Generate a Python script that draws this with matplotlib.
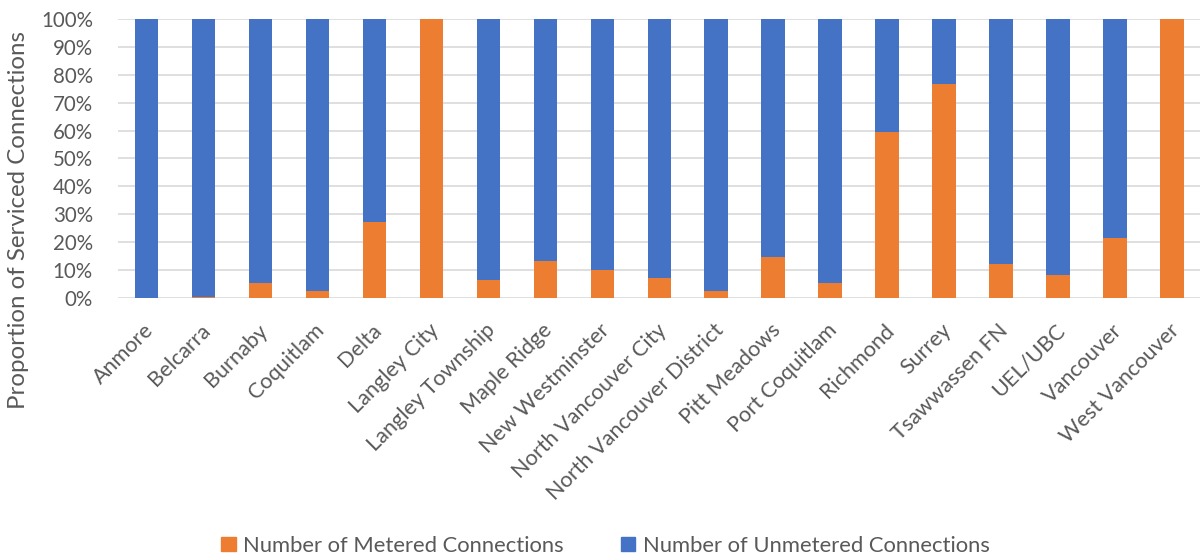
import matplotlib
matplotlib.use("Agg")
import matplotlib.pyplot as plt
from matplotlib.ticker import PercentFormatter
from matplotlib.patches import Patch
from matplotlib.transforms import ScaledTranslation
import numpy as np

# Share of serviced connections that are metered, by municipality (%)
municipalities = [
    "Anmore", "Belcarra", "Burnaby", "Coquitlam", "Delta", "Langley City",
    "Langley Township", "Maple Ridge", "New Westminster", "North Vancouver City",
    "North Vancouver District", "Pitt Meadows", "Port Coquitlam", "Richmond",
    "Surrey", "Tsawwassen FN", "UEL/UBC", "Vancouver", "West Vancouver",
]
metered_pct = [0.1, 0.5, 5.2, 2.6, 27.3, 100.0, 6.5, 13.4, 10.1, 7.3,
               2.6, 14.7, 5.2, 59.6, 76.8, 12.0, 8.4, 21.6, 100.0]
unmetered_pct = [100.0 - m for m in metered_pct]

series_labels = ["Number of Metered Connections", "Number of Unmetered Connections"]
ORANGE = "#ED7D31"
BLUE = "#4472C4"
TEXT = "#595959"
GRID = "#D9D9D9"

plt.rcParams["font.family"] = ["Lato", "DejaVu Sans"]

fig = plt.figure(figsize=(12.04, 5.59), dpi=100)
ax = fig.add_axes([0.098, 0.467, 0.899, 0.499])

x = np.arange(len(municipalities))
w = 0.41
ax.bar(x, metered_pct, width=w, color=ORANGE, zorder=3)
ax.bar(x, unmetered_pct, width=w, bottom=metered_pct, color=BLUE, zorder=3)

ax.set_xlim(-0.5, len(municipalities) - 0.5)
ax.set_ylim(0, 100)
ax.set_yticks(np.arange(0, 101, 10))
ax.yaxis.set_major_formatter(PercentFormatter(decimals=0))
ax.grid(axis="y", color=GRID, linewidth=1.2, zorder=0)
for s in ax.spines.values():
    s.set_visible(False)
ax.tick_params(axis="y", length=0, colors=TEXT, labelsize=14.8, pad=18)
ax.set_xticks(x)
ax.set_xticklabels(municipalities, rotation=45, ha="right",
                   rotation_mode="anchor", color=TEXT, fontsize=15.6)
ax.tick_params(axis="x", length=0, pad=16)
shift = ScaledTranslation(-3 / 100, 0, fig.dpi_scale_trans)
for lbl in ax.get_xticklabels():
    lbl.set_transform(lbl.get_transform() + shift)

ax.set_ylabel("Proportion of Serviced Connections", color=TEXT, fontsize=17.3)
ax.yaxis.set_label_coords(-0.082, 0.28)

handles = [Patch(color=ORANGE), Patch(color=BLUE)]
fig.legend(handles, series_labels, loc="center", bbox_to_anchor=(0.503, 0.024),
           ncol=2, frameon=False, fontsize=15.8, labelcolor=TEXT,
           handlelength=0.65, handleheight=0.65, columnspacing=2.6, handletextpad=0.35)

fig.savefig("out.png", dpi=100)
